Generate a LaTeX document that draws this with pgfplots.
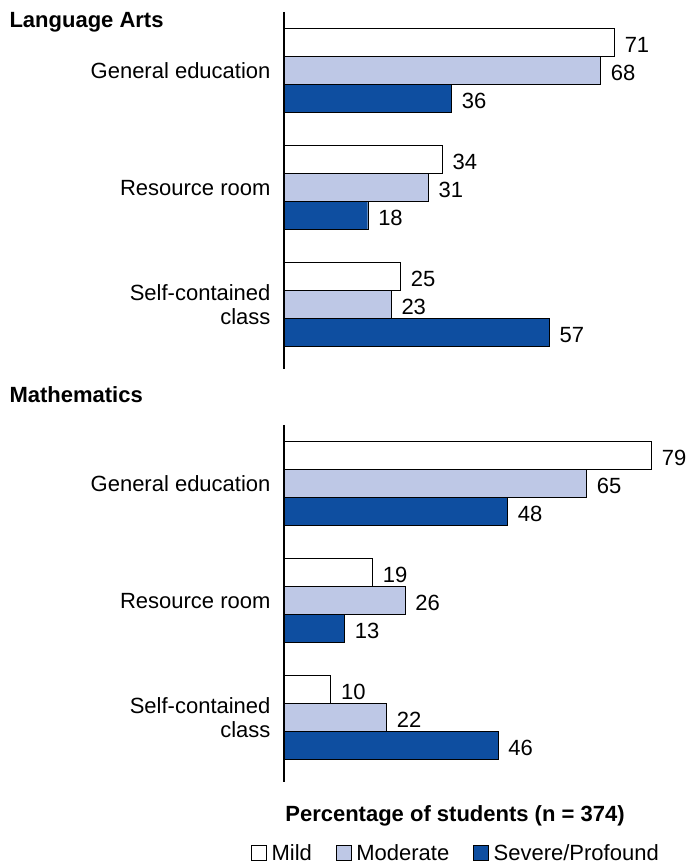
\documentclass[border=0pt]{standalone}
\usepackage{pgfplots}
\pgfplotsset{compat=1.18}
\usepackage{fontspec}
\setmainfont{Liberation Sans}
\definecolor{modc}{RGB}{190,200,230}
\definecolor{sevc}{RGB}{14,78,160}
\newcommand{\fs}{\fontsize{22}{24}\selectfont}
\begin{document}
\begin{tikzpicture}
\path[use as bounding box] (0pt,0pt) rectangle (687pt,867pt);
\pgfplotsset{
 myax/.style={
  scale only axis, width=400pt, height=357pt, anchor=north west,
  xbar, xmin=0, xmax=86, ymin=-0.5, ymax=2.55, y dir=reverse,
  axis y line=left, axis x line=none, axis line style={line width=1.5pt, -},
  ytick={0,1,2}, major tick length=0pt,
  yticklabels={General education, Resource room, {Self-contained\\class}},
  yticklabel style={align=right, font=\fs, xshift=-10pt},
  bar width=28pt,
  nodes near coords, every node near coord/.append style={font=\fs, xshift=7pt, yshift=-2pt},
  /pgf/number format/assume math mode=true,
  clip=false,
 }
}
\node[anchor=west,font=\bfseries\fs] at (6pt,845pt) {Language Arts};
\begin{axis}[myax, at={(284pt,855pt)}]
\addplot[draw=black, fill=white, bar shift=28pt] coordinates {(71,0) (34,1) (25,2)};
\addplot[draw=black, fill=modc, bar shift=0pt] coordinates {(68,0) (31,1) (23,2)};
\addplot[draw=black, fill=sevc, bar shift=-28pt] coordinates {(36,0) (18,1) (57,2)};
\end{axis}
\node[anchor=west,font=\bfseries\fs] at (6pt,472pt) {Mathematics};
\begin{axis}[myax, at={(284pt,442pt)},
 legend style={at={(0.43,-0.199)}, anchor=center, draw=none, legend columns=3, font=\fs,
   /tikz/every even column/.append style={column sep=22pt},
   /tikz/every odd column/.append style={column sep=3pt}},
 legend image code/.code={\draw[#1] (0pt,-7pt) rectangle (15pt,8pt);}]
\addplot[draw=black, fill=white, bar shift=28pt] coordinates {(79,0) (19,1) (10,2)};
\addplot[draw=black, fill=modc, bar shift=0pt] coordinates {(65,0) (26,1) (22,2)};
\addplot[draw=black, fill=sevc, bar shift=-28pt] coordinates {(48,0) (13,1) (46,2)};
\legend{Mild, Moderate, Severe/Profound}
\end{axis}
\node[font=\bfseries\fs] at (455pt,51pt) {Percentage of students (n = 374)};
\end{tikzpicture}
\end{document}
